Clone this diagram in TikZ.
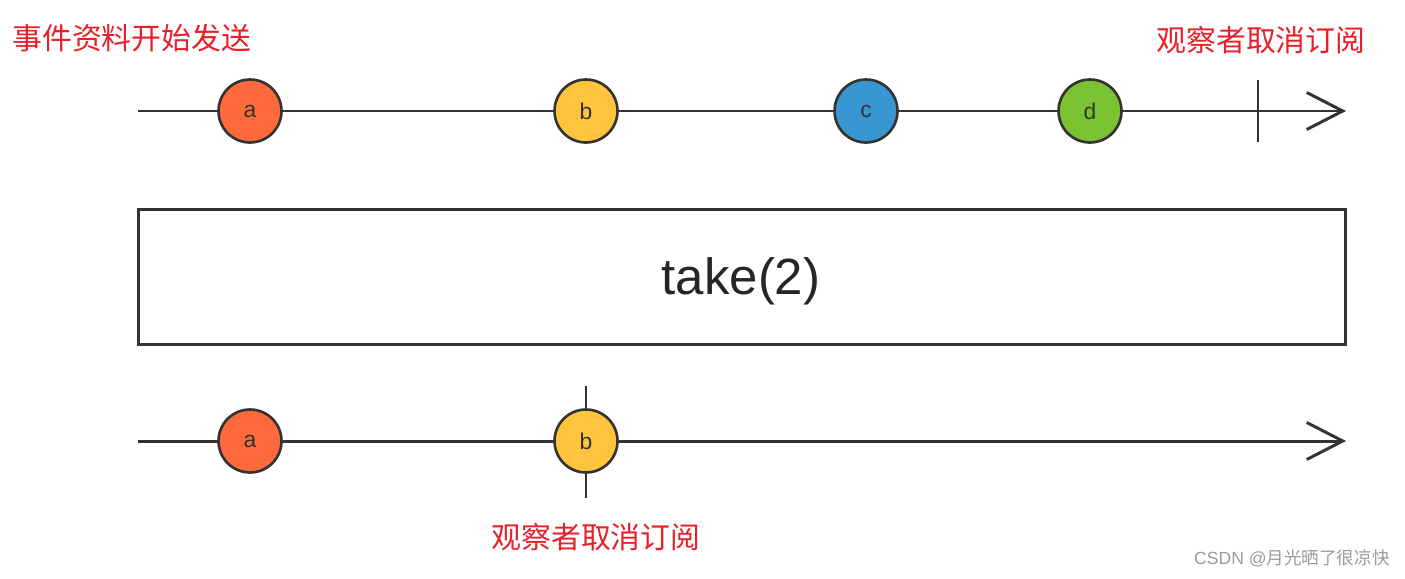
\documentclass[tikz,border=0pt]{standalone}
\usepackage{fontspec}
\setmainfont{Liberation Sans}
\newfontfamily\cjk{Noto Sans CJK SC}
\usetikzlibrary{arrows.meta}
\definecolor{cA}{HTML}{FF6A3D}
\definecolor{cB}{HTML}{FFC43E}
\definecolor{cC}{HTML}{3896D3}
\definecolor{cD}{HTML}{7AC231}
\definecolor{lineg}{HTML}{333333}
\definecolor{redt}{HTML}{E8202A}
\definecolor{wm}{HTML}{9A9A9A}
\tikzset{
  axis/.style={draw=lineg, line width=1.7pt, -{Straight Barb[length=0.72cm, width=0.74cm, line width=1.7pt]}},
  tick/.style={draw=lineg, line width=1.5pt},
  marble/.style={circle, draw=lineg, line width=1.5pt, minimum size=1.26cm, inner sep=0pt, font=\fontsize{13}{13}\selectfont, text=black!80},
  redlabel/.style={text=redt, font=\cjk\fontsize{17}{17}\selectfont, inner sep=0pt},
  opbox/.style={draw=lineg, line width=1.7pt, minimum width=24.16cm, minimum height=2.72cm, inner sep=0pt},
  optext/.style={font=\fontsize{29}{29}\selectfont, text=black!85, inner sep=0pt}
}
\begin{document}
\begin{tikzpicture}[x=0.02cm, y=-0.02cm]
\useasboundingbox (0,0) rectangle (1405,578);
% top axis
\coordinate (s1) at (138,111);
\coordinate (e1) at (1346,111);
\coordinate (t1a) at (1258,80);
\coordinate (t1b) at (1258,142);
\draw[axis] (s1) -- (e1);
\draw[tick] (t1a) -- (t1b);
\node[marble, fill=cA] (a1) at (250,111) {a};
\node[marble, fill=cB] (b1) at (586,111) {b};
\node[marble, fill=cC] (c1) at (866,111) {c};
\node[marble, fill=cD] (d1) at (1090,111) {d};
% operator box
\node[opbox] (op) at (742,277) {};
\node[optext] (optxt) at (741,281) {take(2)};
% bottom axis
\coordinate (s2) at (138,441);
\coordinate (e2) at (1346,441);
\coordinate (t2a) at (586,386);
\coordinate (t2b) at (586,498);
\draw[axis] (s2) -- (e2);
\draw[tick] (t2a) -- (t2b);
\node[marble, fill=cA] (a2) at (250,441) {a};
\node[marble, fill=cB] (b2) at (586,441) {b};
% labels
\node[redlabel, anchor=west] (lstart) at (12,38) {事件资料开始发送};
\node[redlabel] (lend1) at (1261,40) {观察者取消订阅};
\node[redlabel] (lend2) at (596,537) {观察者取消订阅};
\node[text=wm, inner sep=0pt, anchor=east, font=\fontsize{10}{10}\selectfont] (wmk) at (1390,558) {CSDN @{\cjk 月光晒了很凉快}};
\end{tikzpicture}
\end{document}
